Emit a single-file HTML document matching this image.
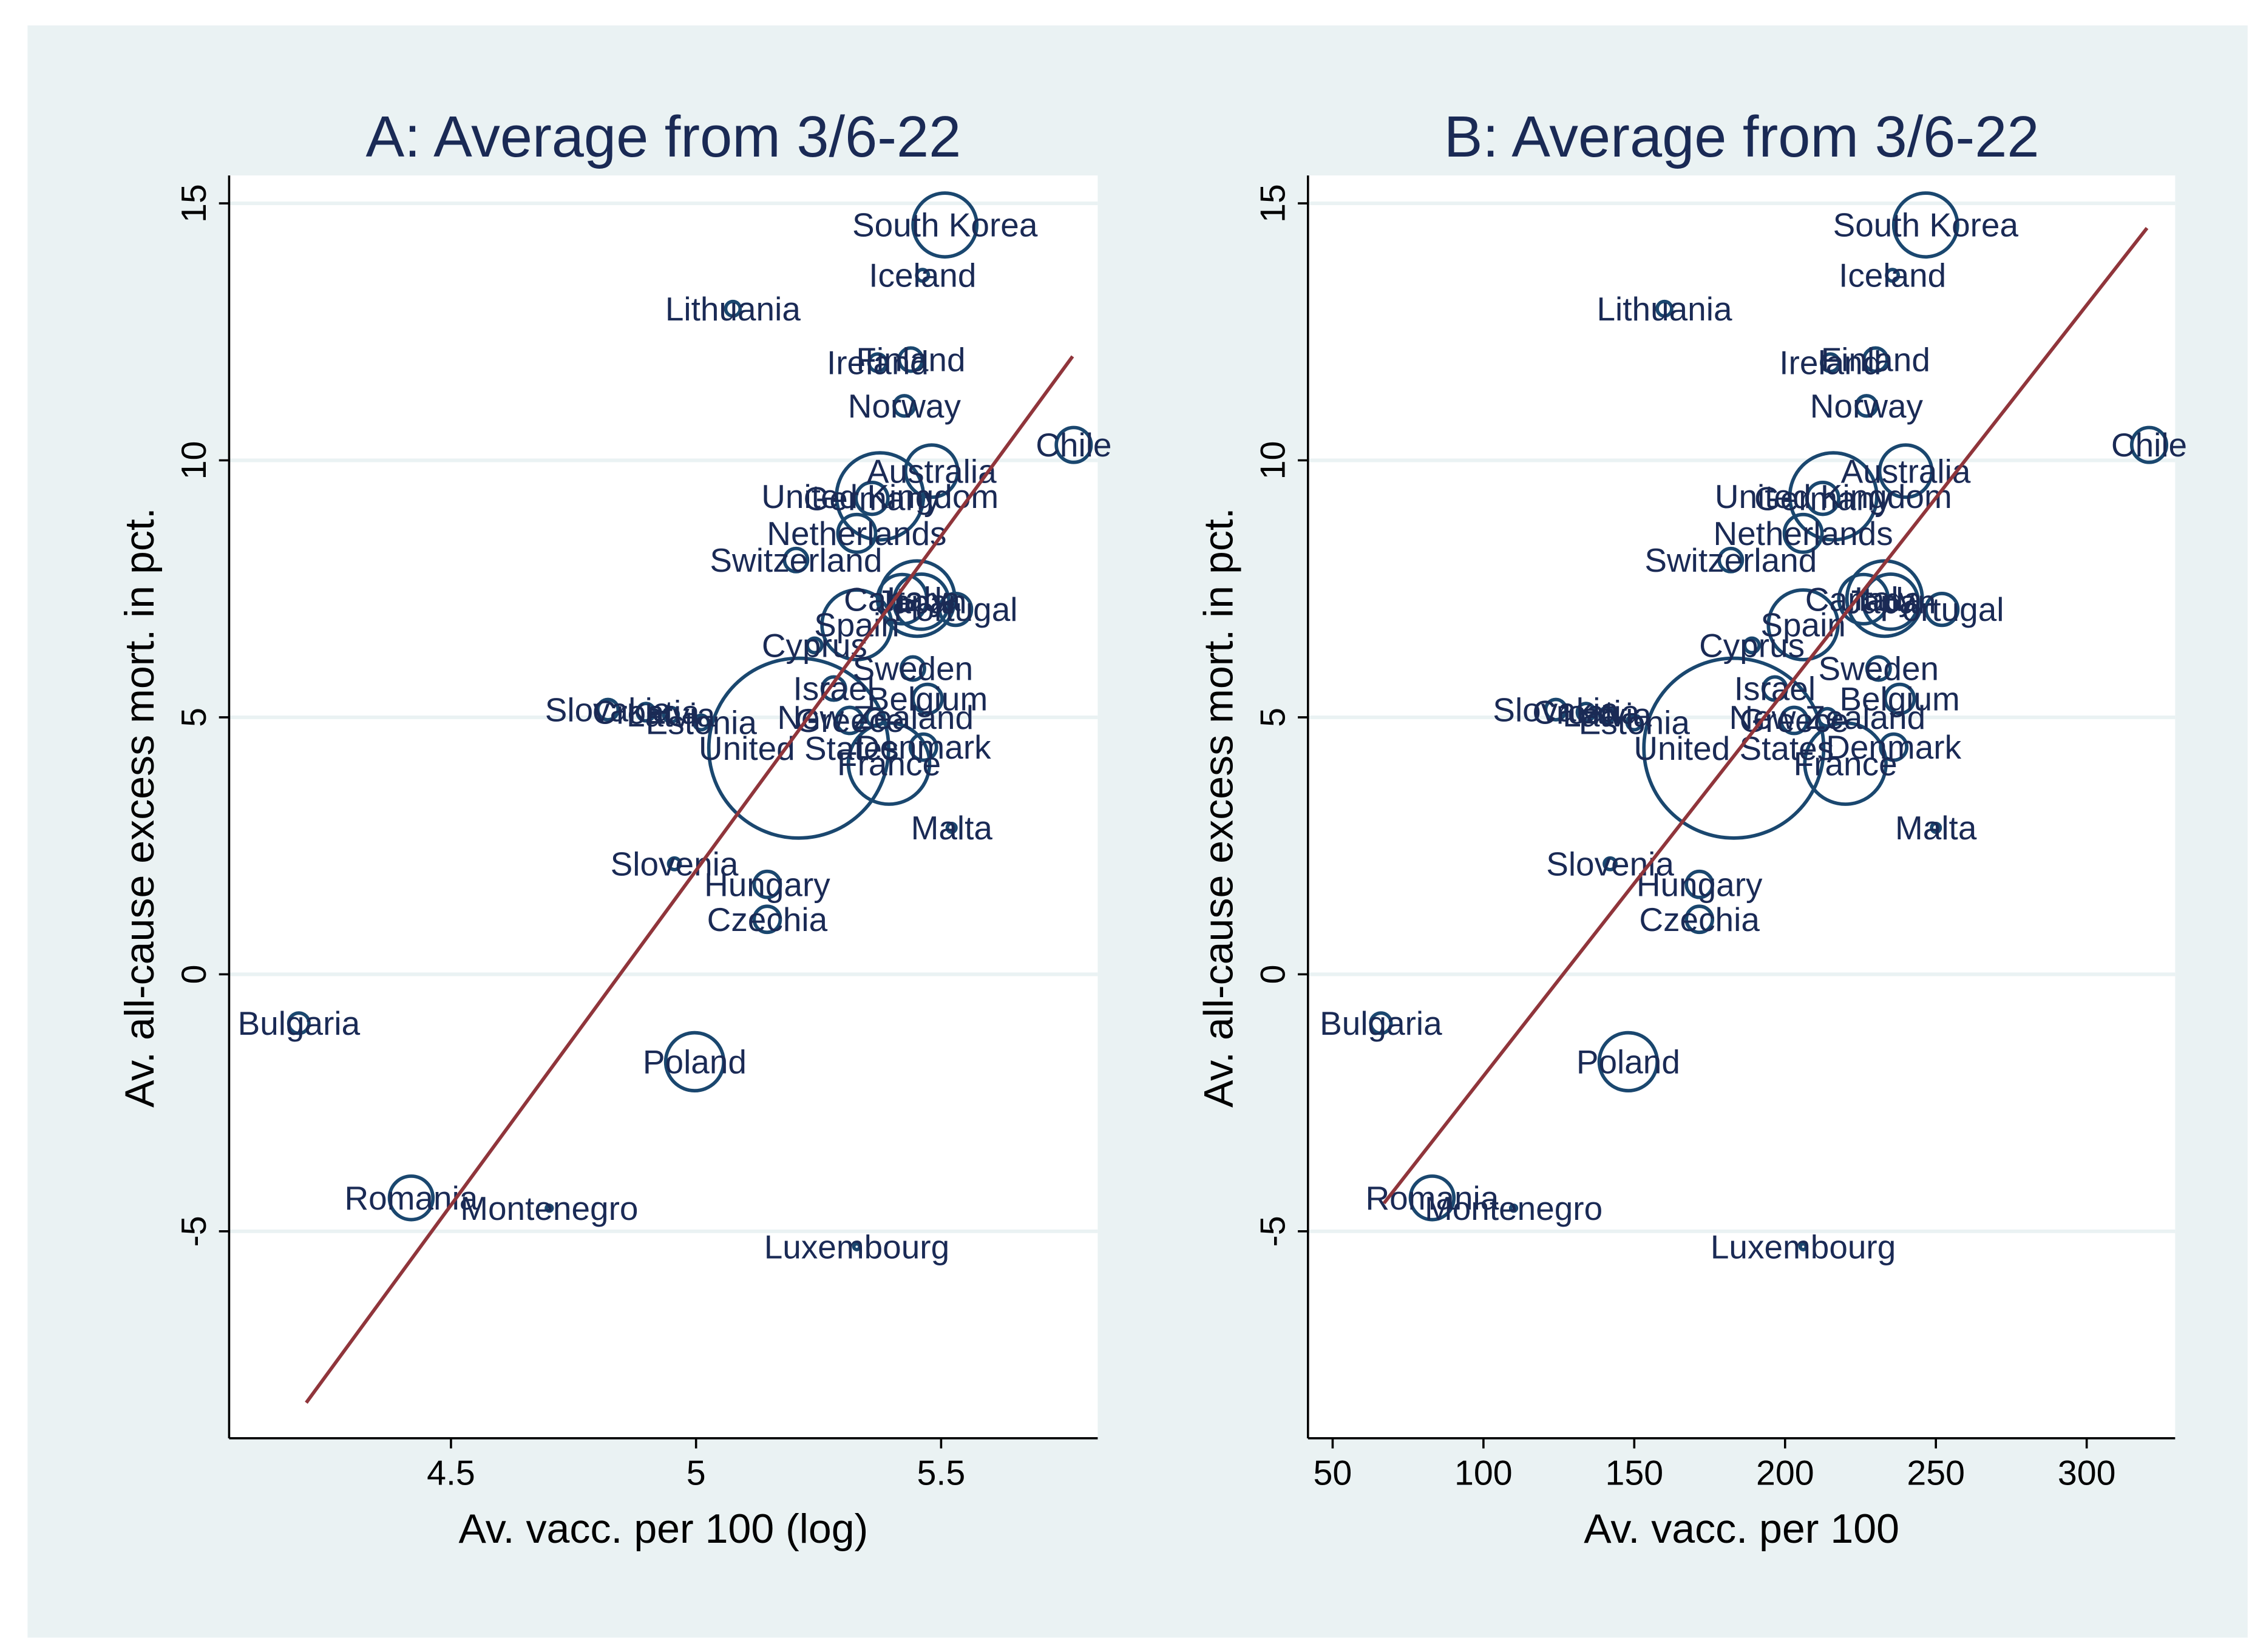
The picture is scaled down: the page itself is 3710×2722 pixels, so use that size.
<!DOCTYPE html>
<html><head><meta charset="utf-8"><style>
html,body{margin:0;padding:0;background:#fff}
svg{display:block}
text{font-family:"Liberation Sans",Arial,sans-serif}
</style></head><body>
<svg id="chart" width="3710" height="2722" viewBox="0 0 1553 1139.4" xmlns="http://www.w3.org/2000/svg">
<rect x="0" y="0" width="1553" height="1140" fill="#ffffff"/>
<rect x="19" y="17.5" width="1531" height="1112" fill="#eaf2f3"/>
<g id="panelA"></g>
<g id="panelB"></g>
</svg>
<script>
const countries = ["South Korea","Iceland","Lithuania","Finland","Ireland","Norway","Chile","Australia","United Kingdom","Germany","Canada","Netherlands","Switzerland","Italy","Japan","Portugal","Spain","Cyprus","Sweden","Israel","Belgium","Greece","New Zealand","United States","Denmark","France","Malta","Slovakia","Croatia","Latvia","Estonia","Slovenia","Hungary","Czechia","Bulgaria","Poland","Romania","Montenegro","Luxembourg"];
const vaccPer100 = [246.6,235.6,160,230,215,227,320.7,240,216,212.5,226,206,182,233,235,252,206,189,231,196.6,238,203,214,183,236,220,250,124,134,141,150,142,171.6,171.6,66,148,83,110,206];
const excessMort = [14.58,13.6,12.95,11.96,11.9,11.06,10.3,9.79,9.3,9.26,7.3,8.58,8.06,7.31,7.25,7.1,6.8,6.4,5.95,5.56,5.36,4.94,5.0,4.4,4.42,4.1,2.85,5.15,5.1,5.05,4.9,2.15,1.75,1.07,-0.95,-1.7,-4.35,-4.55,-5.3];
const bubbleWeight = [22,4,5,8,6,7,12,18,30,11,17,13,8,26,19,11,24,5,8,8,10,9,6,62,9,28,3,7,6,5,5,4,9,9,7,20,15,2,2];
const yTicks = [15,10,5,0,-5];
const xTicksA = [4.5,5,5.5];
const xTicksB = [50,100,150,200,250,300];
const fitA = [-63.08,13.02];
const fitB = [-9.48,0.075];
const fitRangeB = [67,320];

const NS="http://www.w3.org/2000/svg";
function mk(tag, attrs, parent){const e=document.createElementNS(NS,tag);for(const k in attrs)e.setAttribute(k,attrs[k]);parent.appendChild(e);return e;}
const yScale = v => 672 - 35.45*v;

function drawPanel(g, cfg){
  mk('rect',{x:cfg.left,y:121,width:cfg.right-cfg.left,height:871,fill:'#ffffff'},g);
  const title = mk('text',{x:(cfg.left+cfg.right)/2,y:108,'text-anchor':'middle','font-size':40,fill:'#1a2a55'},g);
  title.textContent = cfg.title;
  
  
  yTicks.forEach(t=>{
    const y=yScale(t);
    const gl=mk('line',{x1:cfg.left,x2:cfg.right,y1:y,y2:y,stroke:'#eaf2f3','stroke-width':2.5},g);
    
    
    mk('line',{x1:cfg.left-7,x2:cfg.left,y1:y,y2:y,stroke:'#000','stroke-width':1.5},g);
    const tl=mk('text',{x:cfg.left-16,y:y,'text-anchor':'middle','font-size':24,fill:'#000',transform:`rotate(-90 ${cfg.left-16} ${y})`},g);
    tl.textContent=String(t);
    
    
  });
  const ya=mk('line',{x1:cfg.left,x2:cfg.left,y1:121,y2:992,stroke:'#000','stroke-width':1.5},g);
  
  
  const xa=mk('line',{x1:cfg.left,x2:cfg.right,y1:992,y2:992,stroke:'#000','stroke-width':1.5},g);
  
  
  cfg.xticks.forEach(t=>{
    const x=cfg.xs(t);
    mk('line',{x1:x,x2:x,y1:992,y2:999,stroke:'#000','stroke-width':1.5},g);
    const tl=mk('text',{x:x,y:1024,'text-anchor':'middle','font-size':24,fill:'#000'},g);
    tl.textContent=String(t);
    
    
  });
  const xt=mk('text',{x:(cfg.left+cfg.right)/2,y:1064,'text-anchor':'middle','font-size':28.5,fill:'#000'},g);
  xt.textContent=cfg.xtitle;
  
  
  const yx=cfg.left-52;
  const yt=mk('text',{x:yx,y:557,'text-anchor':'middle','font-size':28.5,fill:'#000',transform:`rotate(-90 ${yx} 557)`},g);
  yt.textContent='Av. all-cause excess mort. in pct.';
  
  
  countries.forEach((c,i)=>{
    const x=cfg.xs(cfg.xv(vaccPer100[i])), y=yScale(excessMort[i]);
    const ci=mk('circle',{cx:x,cy:y,r:bubbleWeight[i],fill:'none',stroke:'#1a476f','stroke-width':2.4},g);
    
    
  });
  countries.forEach((c,i)=>{
    const x=cfg.xs(cfg.xv(vaccPer100[i])), y=yScale(excessMort[i]);
    const lb=mk('text',{x:x,y:y+8,'text-anchor':'middle','font-size':23,fill:'#1a2a55'},g);
    lb.textContent=c;
    
    
  });
  const x0=cfg.fitLo, x1=cfg.fitHi;
  const fl=mk('line',{x1:cfg.xs(x0),y1:yScale(cfg.fit[0]+cfg.fit[1]*x0),x2:cfg.xs(x1),y2:yScale(cfg.fit[0]+cfg.fit[1]*x1),stroke:'#90353b','stroke-width':2.4},g);
  
  
}

drawPanel(document.getElementById('panelA'),{
  left:158,right:757,title:'A: Average from 3/6-22',xtitle:'Av. vacc. per 100 (log)',
  xs:v=>480+338*(v-5), xv:v=>Math.log(v), xticks:xTicksA,
  fit:fitA, fitLo:Math.log(fitRangeB[0]), fitHi:Math.log(fitRangeB[1])
});
drawPanel(document.getElementById('panelB'),{
  left:902,right:1500,title:'B: Average from 3/6-22',xtitle:'Av. vacc. per 100',
  xs:v=>919+2.08*(v-50), xv:v=>v, xticks:xTicksB,
  fit:fitB, fitLo:fitRangeB[0], fitHi:fitRangeB[1]
});
</script>
</body></html>
